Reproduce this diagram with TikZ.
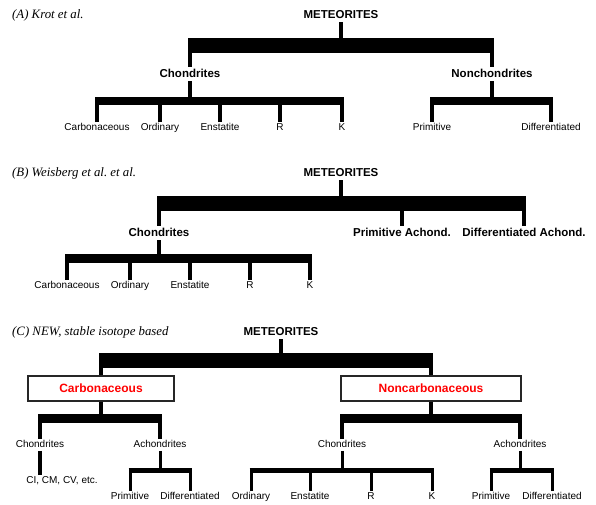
\documentclass[tikz,border=0pt]{standalone}
\usepackage{fontspec}
\setmainfont{Liberation Serif}
\setsansfont{Liberation Sans}
\frenchspacing
\usetikzlibrary{positioning}

\begin{document}
\begin{tikzpicture}[x=1pt,y=-1pt,
  paneltitle/.style={anchor=west,inner sep=0pt,font=\fontsize{12.8}{14}\selectfont\itshape},
  rootlbl/.style={font=\fontsize{11.5}{13}\selectfont\sffamily\bfseries,text height=8.5pt,text depth=2pt,inner sep=2pt},
  leaflbl/.style={font=\fontsize{10}{11}\selectfont\sffamily,text height=7.2pt,text depth=2pt,inner sep=1pt},
  clanbox/.style={draw=black!85,line width=1.6pt,minimum width=#1,minimum height=25pt,inner sep=0pt,
    text=red,font=\fontsize{12}{14}\selectfont\sffamily\bfseries},
  stem/.style={draw,line width=3.5pt},
  twig/.style={draw,line width=3pt},
  barI/.style={draw,line width=15pt,shorten <=-1.75pt,shorten >=-1.75pt},
  barII/.style={draw,line width=8.5pt,shorten <=-1.75pt,shorten >=-1.75pt},
  barIII/.style={draw,line width=5pt,shorten <=-1.5pt,shorten >=-1.5pt}]

\useasboundingbox (0,0) rectangle (596,504);

% --- (A) Krot et al.: chondrites vs. nonchondrites ---
\node[paneltitle] (tA) at (12,15) {(A) Krot et al.};
\node[rootlbl] (mA) at (341,15) {METEORITES};
\coordinate (yA1) at (0,45.5);  % level-1 bar
\coordinate (yA2) at (0,101);   % level-2 bars
\node[rootlbl] (chA) at (190,74) {Chondrites};
\node[rootlbl] (ncA) at (492,74) {Nonchondrites};
\draw[stem] (mA.south) -- (mA.south |- yA1);
\draw[stem] (chA.north) -- (chA.north |- yA1);
\draw[stem] (ncA.north) -- (ncA.north |- yA1);
\draw[barI] (chA.north |- yA1) -- (ncA.north |- yA1);
\draw[stem] (chA.south) -- (chA.south |- yA2);
\draw[stem] (ncA.south) -- (ncA.south |- yA2);
\foreach \nm/\x/\lbl in {ca/97/Carbonaceous,or/160/Ordinary,en/220/Enstatite,r/280/R,k/342/K,
                         pr/432/Primitive,di/551/Differentiated}{
  \node[leaflbl] (A\nm) at (\x,128) {\lbl};
  \draw[stem] (A\nm.north) -- (A\nm.north |- yA2);
}
\draw[barII] (Aca.north |- yA2) -- (Ak.north |- yA2);
\draw[barII] (Apr.north |- yA2) -- (Adi.north |- yA2);

% --- (B) Weisberg et al.: chondrites + two achondrite groups ---
\node[paneltitle] (tB) at (12,173) {(B) Weisberg et al. et al.};
\node[rootlbl] (mB) at (341,173) {METEORITES};
\coordinate (yB1) at (0,203.5);
\coordinate (yB2) at (0,258.5);
\node[rootlbl] (chB) at (159,233) {Chondrites};
\node[rootlbl] (paB) at (402,233) {Primitive Achond.};
\node[rootlbl] (daB) at (524,233) {Differentiated Achond.};
\draw[stem] (mB.south) -- (mB.south |- yB1);
\foreach \nm in {chB,paB,daB}
  \draw[stem] (\nm.north) -- (\nm.north |- yB1);
\draw[barI] (chB.north |- yB1) -- (daB.north |- yB1);
\draw[stem] (chB.south) -- (chB.south |- yB2);
\foreach \nm/\x/\lbl in {ca/67/Carbonaceous,or/130/Ordinary,en/190/Enstatite,r/250/R,k/310/K}{
  \node[leaflbl] (B\nm) at (\x,286) {\lbl};
  \draw[stem] (B\nm.north) -- (B\nm.north |- yB2);
}
\draw[barII] (Bca.north |- yB2) -- (Bk.north |- yB2);

% --- (C) NEW, isotope based: CC vs. NC reservoirs ---
\node[paneltitle] (tC) at (12,332) {(C) NEW, stable isotope based};
\node[rootlbl] (mC) at (281,332) {METEORITES};
\coordinate (yC1) at (0,360.5);
\coordinate (yC2) at (0,418.5);
\coordinate (yC3) at (0,470.5);
\node[clanbox=146pt] (cc) at (101,388.5) {Carbonaceous};
\node[clanbox=180pt] (nc) at (431,388.5) {Noncarbonaceous};
\draw[stem] (mC.south) -- (mC.south |- yC1);
\draw[stem] (cc.north) -- (cc.north |- yC1);
\draw[stem] (nc.north) -- (nc.north |- yC1);
\draw[barI] (cc.north |- yC1) -- (nc.north |- yC1);
\draw[stem] (cc.south) -- (cc.south |- yC2);
\draw[stem] (nc.south) -- (nc.south |- yC2);

% second level: chondrites / achondrites in each reservoir
\node[leaflbl] (chCC) at (40,445) {Chondrites};
\node[leaflbl] (acCC) at (160,445) {Achondrites};
\node[leaflbl] (chNC) at (342,445) {Chondrites};
\node[leaflbl] (acNC) at (520,445) {Achondrites};
\foreach \nm in {chCC,acCC,chNC,acNC}
  \draw[stem] (\nm.north) -- (\nm.north |- yC2);
\draw[barII] (chCC.north |- yC2) -- (acCC.north |- yC2);
\draw[barII] (chNC.north |- yC2) -- (acNC.north |- yC2);

% third level
\node[leaflbl] (ciCC) at (62,481) {CI, CM, CV, etc.};
\draw[stem] (chCC.south) -- (chCC.south |- ciCC.north);
\foreach \nm in {acCC,chNC,acNC}
  \draw[twig] (\nm.south) -- (\nm.south |- yC3);
\foreach \nm/\x/\lbl in {pc/130/Primitive,dc/190/Differentiated,
                         or/251/Ordinary,en/310/Enstatite,r/371/R,k/432/K,
                         pn/491/Primitive,dn/552/Differentiated}{
  \node[leaflbl] (C\nm) at (\x,497) {\lbl};
  \draw[twig] (C\nm.north) -- (C\nm.north |- yC3);
}
\draw[barIII] (Cpc.north |- yC3) -- (Cdc.north |- yC3);
\draw[barIII] (Cor.north |- yC3) -- (Ck.north |- yC3);
\draw[barIII] (Cpn.north |- yC3) -- (Cdn.north |- yC3);

\end{tikzpicture}
\end{document}
